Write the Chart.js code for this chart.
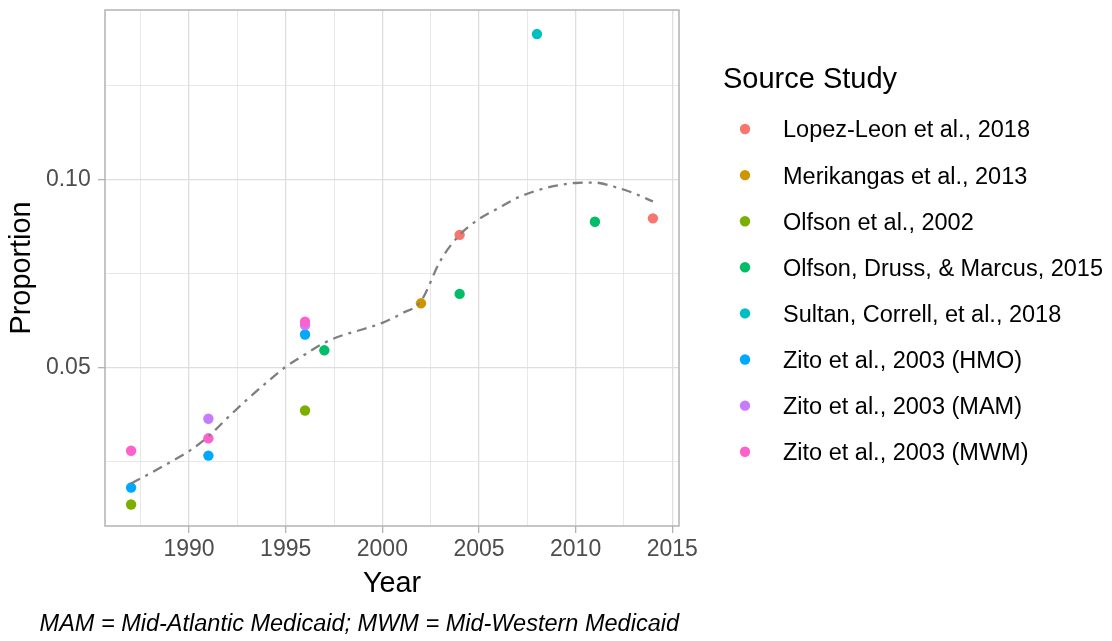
<!DOCTYPE html>
<html>
<head>
<meta charset="utf-8">
<script src="https://cdn.jsdelivr.net/npm/chart.js@4.4.1/dist/chart.umd.min.js"></script>
<style>
  body { margin: 0; background: #fff; }
  #wrap { width: 1112px; height: 641px; }
</style>
</head>
<body>
<div id="wrap"><canvas id="chart"></canvas></div>
<script>
// values
const studyNames = [
    'Lopez-Leon et al., 2018',
    'Merikangas et al., 2013',
    'Olfson et al., 2002',
    'Olfson, Druss, & Marcus, 2015',
    'Sultan, Correll, et al., 2018',
    'Zito et al., 2003 (HMO)',
    'Zito et al., 2003 (MAM)',
    'Zito et al., 2003 (MWM)',
];
const studyColors = ['#F8766D', '#CD9600', '#7CAE00', '#00BE67', '#00BFC4', '#00A9FF', '#C77CFF', '#FF61CC'];

const lopezYears = [2004, 2014];
const lopezValues = [0.0854, 0.0898];
const merikangasYears = [2002];
const merikangasValues = [0.0672];
const olfson2002Years = [1987, 1996];
const olfson2002Values = [0.0137, 0.0387];
const olfsonDMYears = [1997, 2004, 2011];
const olfsonDMValues = [0.0547, 0.0697, 0.0889];
const sultanYears = [2008];
const sultanValues = [0.1388];
const zitoHmoYears = [1987, 1991, 1996];
const zitoHmoValues = [0.0182, 0.0267, 0.0589];
const zitoMamYears = [1991, 1996];
const zitoMamValues = [0.0365, 0.0614];
const zitoMwmYears = [1987, 1991, 1996];
const zitoMwmValues = [0.0280, 0.0313, 0.0623];

// loess trend line
const smoothYears = [1987, 1988, 1989, 1990, 1991, 1992, 1993, 1994, 1995, 1996, 1997, 1998, 1999, 2000,
    2001, 2002, 2003, 2004, 2005, 2006, 2007, 2008, 2009, 2010, 2011, 2012, 2013, 2014];
const smoothValues = [0.0193, 0.0220, 0.0249, 0.0279, 0.0318, 0.0368, 0.0416, 0.0461, 0.0503, 0.0536, 0.0567,
    0.0588, 0.0603, 0.0620, 0.0645, 0.0678, 0.0785, 0.0854, 0.0896, 0.0925, 0.0953, 0.0972, 0.0985, 0.0992,
    0.0993, 0.0982, 0.0965, 0.0943];

const xMajorTicks = [1990, 1995, 2000, 2005, 2010, 2015];
const xMinorTicks = [1987.5, 1992.5, 1997.5, 2002.5, 2007.5, 2012.5];
const yMajorTicks = [0.05, 0.10];
const yMinorTicks = [0.025, 0.075, 0.125];
const yTickLabels = ['0.05', '0.10'];

const studyYears = [lopezYears, merikangasYears, olfson2002Years, olfsonDMYears, sultanYears, zitoHmoYears, zitoMamYears, zitoMwmYears];
const studyValues = [lopezValues, merikangasValues, olfson2002Values, olfsonDMValues, sultanValues, zitoHmoValues, zitoMamValues, zitoMwmValues];

const FONT = '"Liberation Sans", Arial, sans-serif';
Chart.defaults.font.family = FONT;

function toPoints(xs, ys) {
    return xs.map((x, i) => ({ x: x, y: ys[i] }));
}

const datasets = studyNames.map((name, i) => ({
    label: name,
    data: toPoints(studyYears[i], studyValues[i]),
    backgroundColor: studyColors[i],
    borderWidth: 0,
    pointRadius: 5.2,
    pointHoverRadius: 5.2,
    order: 8 - i,
}));
datasets.push({
    type: 'line',
    label: 'trend',
    data: toPoints(smoothYears, smoothValues),
    borderColor: '#7F7F7F',
    borderWidth: 2.3,
    borderDash: [10, 6, 3, 6],
    pointRadius: 0,
    fill: false,
    cubicInterpolationMode: 'monotone',
    order: 0,
});

const near = (arr, v) => arr.some((a) => Math.abs(a - v) < 1e-9);

// panel border drawn over everything, like ggplot
const panelBorder = {
    id: 'panelBorder',
    afterDraw(chart) {
        const a = chart.chartArea;
        const ctx = chart.ctx;
        ctx.save();
        ctx.strokeStyle = '#B3B3B3';
        ctx.lineWidth = 1.5;
        ctx.strokeRect(a.left, a.top, a.right - a.left, a.bottom - a.top);
        ctx.restore();
    },
};

// legend laid out like the ggplot guide
const sideLegend = {
    id: 'sideLegend',
    afterDraw(chart) {
        const ctx = chart.ctx;
        ctx.save();
        ctx.fillStyle = '#000';
        ctx.textAlign = 'left';
        ctx.textBaseline = 'alphabetic';
        ctx.font = '29px ' + FONT;
        ctx.fillText('Source Study', 723, 88);
        ctx.font = '23.5px ' + FONT;
        chart.data.datasets.forEach((ds, i) => {
            if (ds.type === 'line') return;
            const y = 129 + 46.1 * i;
            ctx.fillStyle = ds.backgroundColor;
            ctx.beginPath();
            ctx.arc(745, y, 5.2, 0, Math.PI * 2);
            ctx.fill();
            ctx.fillStyle = '#000';
            ctx.fillText(ds.label, 783, y + 8.4);
        });
        ctx.restore();
    },
};

new Chart(document.getElementById('chart'), {
    type: 'scatter',
    data: { datasets: datasets },
    plugins: [panelBorder, sideLegend],
    options: {
        responsive: true,
        maintainAspectRatio: false,
        animation: false,
        events: [],
        layout: { padding: { left: 0, top: 10, right: 433, bottom: 0 } },
        plugins: {
            legend: { display: false },
            tooltip: { enabled: false },
            title: {
                display: true,
                position: 'bottom',
                align: 'end',
                text: 'MAM = Mid-Atlantic Medicaid; MWM = Mid-Western Medicaid',
                color: '#000',
                font: { size: 23.5, style: 'italic', weight: 'normal' },
                padding: { top: 0, bottom: 2 },
            },
        },
        scales: {
            x: {
                type: 'linear',
                min: 1985.65,
                max: 2015.35,
                afterBuildTicks: (s) => {
                    s.ticks = xMinorTicks.concat(xMajorTicks).sort((a, b) => a - b).map((v) => ({ value: v }));
                },
                afterFit: (s) => {
                    s.height = 84.8;
                },
                ticks: {
                    autoSkip: false,
                    maxRotation: 0,
                    padding: 3,
                    color: '#4D4D4D',
                    font: { size: 23 },
                    callback: (v) => (near(xMajorTicks, v) ? String(v) : ''),
                },
                grid: {
                    color: '#DEDEDE',
                    lineWidth: (c) => (c.tick && near(xMajorTicks, c.tick.value) ? 1.3 : 0.7),
                    tickLength: 7,
                    tickColor: (c) => (c.tick && near(xMajorTicks, c.tick.value) ? '#B3B3B3' : 'rgba(0,0,0,0)'),
                    tickWidth: 1.3,
                },
                border: { display: false },
                title: {
                    display: true,
                    text: 'Year',
                    color: '#000',
                    font: { size: 28.8 },
                    padding: { top: 0, bottom: 9.5 },
                },
            },
            y: {
                type: 'linear',
                min: 0.00798,
                max: 0.1452,
                afterBuildTicks: (s) => {
                    s.ticks = yMinorTicks.concat(yMajorTicks).sort((a, b) => a - b).map((v) => ({ value: v }));
                },
                afterFit: (s) => {
                    s.width = 105;
                    s.paddingTop = 0;
                    s.paddingBottom = 0;
                },
                ticks: {
                    padding: 7.3,
                    color: '#4D4D4D',
                    font: { size: 23 },
                    callback: (v) => {
                        const k = yMajorTicks.findIndex((m) => Math.abs(m - v) < 1e-9);
                        return k >= 0 ? yTickLabels[k] : '';
                    },
                },
                grid: {
                    color: '#DEDEDE',
                    lineWidth: (c) => (c.tick && near(yMajorTicks, c.tick.value) ? 1.3 : 0.7),
                    tickLength: 7,
                    tickColor: (c) => (c.tick && near(yMajorTicks, c.tick.value) ? '#B3B3B3' : 'rgba(0,0,0,0)'),
                    tickWidth: 1.3,
                },
                border: { display: false },
                title: {
                    display: true,
                    text: 'Proportion',
                    color: '#000',
                    font: { size: 28.8 },
                    padding: { top: 5, bottom: 0 },
                },
            },
        },
    },
});
</script>
</body>
</html>
